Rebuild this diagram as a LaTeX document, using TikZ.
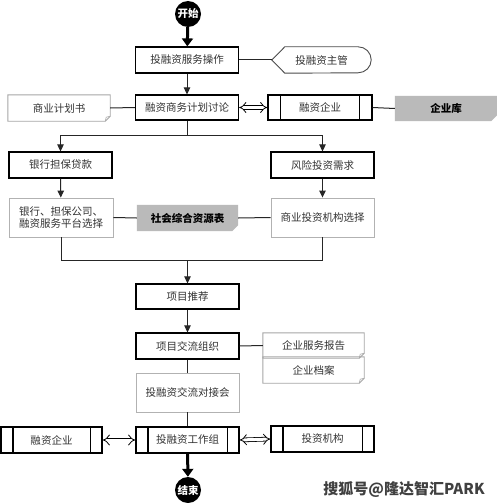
\documentclass[tikz,border=0pt]{standalone}
\usepackage{fontspec}
\setmainfont{Noto Sans CJK SC}
\usetikzlibrary{arrows.meta,calc,backgrounds}
\tikzset{
  base/.style={minimum height=26pt, inner sep=0pt, font=\fontsize{10.5}{12}\selectfont, align=center, text=black!80},
  proc/.style={base, draw=black, line width=1.2pt, minimum width=103pt},
  lightbox/.style={base, draw=black!30, line width=0.9pt, minimum width=103pt, minimum height=39pt},
  plainnode/.style={base, minimum width=101pt},
  boldnode/.style={plainnode, text=black, font=\fontsize{10.5}{12}\selectfont\bfseries},
  docline/.style={draw=black!35, line width=0.9pt},
  grayfill/.style={fill=black!27},
  term/.style={circle, fill=black, minimum size=26pt, inner sep=0pt, text=white, font=\fontsize{10.5}{12}\selectfont\bfseries},
  conn/.style={draw=black!85, line width=1pt},
  arr/.style={conn, -{Triangle[length=7pt,width=6.5pt]}},
  thickarr/.style={draw=black, line width=3pt, -{Triangle[length=8pt,width=11pt]}},
  dbl/.style={draw=black, double=white, double distance=3pt, line width=0.8pt, {Implies}-{Implies}},
  subline/.style={draw=black, line width=1.2pt},
  wmark/.style={font=\fontsize{15}{17}\selectfont\bfseries, text=black!75},
}
\begin{document}
\begin{tikzpicture}[x=1pt,y=-1pt]
\useasboundingbox (0,0) rectangle (497,503);

% terminals
\node[term] (start) at (188,14) {开始};
\node[term] (stop) at (188,490) {结束};

% first row
\node[proc] (op) at (187,60) {投融资服务操作};
\node[plainnode, minimum width=99pt] (mgr) at (321.5,60) {投融资主管};
\draw[line width=0.9pt, draw=black!70] (mgr.west) -- ([xshift=13pt]mgr.north west) -- ([xshift=-13pt]mgr.north east)
   arc[start angle=90, end angle=-90, radius=13pt] -- ([xshift=13pt]mgr.south west) -- cycle;

% second row
\node[proc, minimum height=25pt] (plan) at (187,107.5) {融资商务计划讨论};
\node[plainnode, minimum width=102pt] (bp) at (59,108) {商业计划书};
\node[proc, minimum width=104pt, minimum height=25pt] (qy1) at (320,107.5) {融资企业};
\draw[subline] ([xshift=13pt]qy1.north west) -- ([xshift=13pt]qy1.south west);
\draw[subline] ([xshift=-13pt]qy1.north east) -- ([xshift=-13pt]qy1.south east);
\node[boldnode, minimum width=102pt, minimum height=25pt] (lib) at (446,108.5) {企业库};

% third row
\node[proc] (bank) at (60.5,165) {银行担保贷款};
\node[proc] (risk) at (322.5,165) {风险投资需求};

% fourth row
\node[lightbox, minimum width=104pt] (bsel) at (61,217.5) {银行、担保公司、\\融资服务平台选择};
\node[lightbox] (isel) at (322.5,217.5) {商业投资机构选择};
\node[boldnode] (soc) at (187.5,218) {社会综合资源表};

% middle column
\node[proc, minimum height=25pt] (rec) at (187.5,296.5) {项目推荐};
\node[proc] (org) at (187.5,346) {项目交流组织};
\node[plainnode, minimum height=25pt] (rep) at (313.5,345.5) {企业服务报告};
\node[plainnode] (arch) at (313.5,370) {企业档案};
\foreach \d in {bp,rep,arch}{
  \draw[docline] (\d.north west) -- (\d.north east) -- ([yshift=5pt]\d.south east) -- ([xshift=-5pt]\d.south east) -- (\d.south west) -- cycle;
  \draw[docline, line width=0.6pt] ([yshift=5pt]\d.south east) -- ([xshift=-4pt,yshift=4pt]\d.south east) -- ([xshift=-5pt]\d.south east);
}
\node[lightbox] (meet) at (187.5,392.5) {投融资交流对接会};

% bottom row
\node[proc] (team) at (187.5,440) {投融资工作组};
\node[proc, minimum width=101pt] (qy2) at (51.5,440) {融资企业};
\node[proc] (inv) at (322.5,439) {投资机构};
\foreach \b in {team,qy2,inv}{
  \draw[subline] ([xshift=12.5pt]\b.north west) -- ([xshift=12.5pt]\b.south west);
  \draw[subline] ([xshift=-12.5pt]\b.north east) -- ([xshift=-12.5pt]\b.south east);
}

% backgrounds: white page and gray chamfered shapes
\begin{scope}[on background layer]
  \fill[white] (0,0) rectangle (497,503);
  \foreach \g in {lib,soc}{
    \fill[grayfill] (\g.north west) -- (\g.north east) -- ([yshift=6pt]\g.south east) -- ([xshift=-6pt]\g.south east) -- (\g.south west) -- cycle;
  }
\end{scope}

% connectors
\draw[thickarr] (start) -- (op);
\draw[thickarr] (team) -- (stop);
\draw[conn] (op.east) -- (mgr.west);
\draw[arr] (op) -- (plan);
\draw[conn] (bp.east) -- (plan.west);
\draw[dbl] (plan.east) -- (qy1.west);
\draw[conn] (qy1.east) -- (lib.west);
\coordinate (split) at (187,135);
\draw[conn] (plan.south) -- (split);
\draw[arr] (split) -| (bank.north);
\draw[arr] (split) -| (risk.north);
\draw[arr] (bank) -- (bsel);
\draw[arr] (risk) -- (isel);
\draw[conn] (bsel.east) -- (soc.west);
\draw[conn] (soc.east) -- (isel.west);
\coordinate (join) at (187.5,260);
\draw[conn] (bsel.south) |- (join);
\draw[conn] (isel.south) |- (join);
\draw[arr] (join) -- (rec.north);
\draw[arr] (rec) -- (org);
\draw[conn] (org.east) -- (rep.west);
\draw[conn] (org) -- (meet);
\draw[conn] (meet) -- (team);
\draw[dbl] (qy2.east) -- (team.west);
\draw[dbl] (team.east) -- (inv.west);

% watermark
\node[wmark] (wm) at (404,489) {搜狐号@隆达智汇PARK};
\end{tikzpicture}
\end{document}
